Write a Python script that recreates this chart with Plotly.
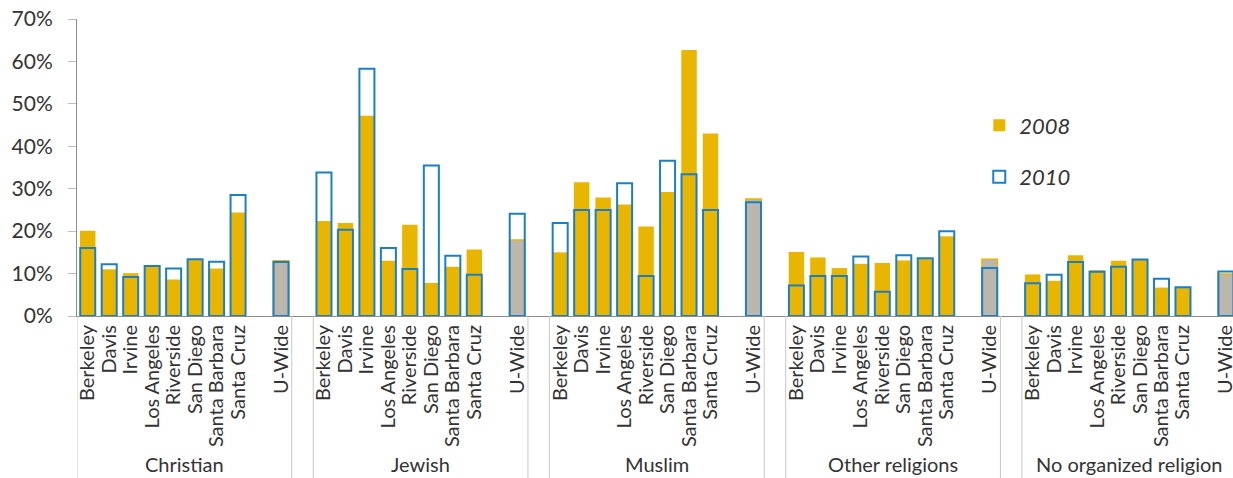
import plotly.graph_objects as go

groups = ["Christian", "Jewish", "Muslim", "Other religions", "No organized religion"]
campuses = ["Berkeley", "Davis", "Irvine", "Los Angeles", "Riverside",
            "San Diego", "Santa Barbara", "Santa Cruz"]
overall = "U-Wide"

# values in percent, per group: 8 campuses then U-Wide
v2008_christian = [20.1, 11.0, 10.1, 11.6, 8.6, 13.3, 11.2, 24.4, 13.0]
v2008_jewish = [22.4, 21.9, 47.2, 13.0, 21.5, 7.8, 11.6, 15.7, 17.9]
v2008_muslim = [15.0, 31.5, 27.9, 26.3, 21.1, 29.2, 62.7, 43.0, 27.6]
v2008_other = [15.1, 13.8, 11.3, 12.3, 12.5, 13.1, 13.5, 18.8, 13.4]
v2008_none = [9.8, 8.3, 14.3, 10.8, 13.0, 13.2, 6.7, 6.6, 9.9]

v2010_christian = [16.0, 12.2, 9.2, 11.8, 11.2, 13.4, 12.8, 28.5, 12.7]
v2010_jewish = [33.8, 20.3, 58.3, 16.0, 11.1, 35.5, 14.2, 9.7, 24.1]
v2010_muslim = [21.9, 25.0, 25.0, 31.3, 9.4, 36.6, 33.4, 25.0, 26.8]
v2010_other = [7.2, 9.4, 9.4, 14.0, 5.7, 14.3, 13.6, 20.0, 11.3]
v2010_none = [7.7, 9.7, 12.7, 10.4, 11.6, 13.3, 8.8, 6.8, 10.5]

y_ticks = [0, 10, 20, 30, 40, 50, 60, 70]
y_tick_text = [f"{v}%" for v in y_ticks]

series_2008 = [v2008_christian, v2008_jewish, v2008_muslim, v2008_other, v2008_none]
series_2010 = [v2010_christian, v2010_jewish, v2010_muslim, v2010_other, v2010_none]

GOLD = "#E8B600"
BLUE = "#1C7FC4"
GRAY = "#BDB6AC"
TEXT = "#333333"
FONT = "Lato"

# positions: per group 8 campuses, one empty slot, U-Wide, then one gap slot
slots_per_group = len(campuses) + 3
xs, y08, y10, labels, fill08, line08c, line08w = [], [], [], [], [], [], []
group_bounds = []
for g, grp in enumerate(groups):
    start = g * slots_per_group
    names = campuses + [overall]
    offs = list(range(len(campuses))) + [len(campuses) + 1]
    for k, (nm, off) in enumerate(zip(names, offs)):
        xs.append(start + off)
        labels.append(nm)
        y08.append(series_2008[g][k])
        y10.append(series_2010[g][k])
        is_u = nm == overall
        fill08.append(GRAY if is_u else GOLD)
        line08c.append(GOLD)
        line08w.append(1.5 if is_u else 0)
    group_bounds.append((start - 0.5, start + len(campuses) + 1.5))

fig = go.Figure()
fig.add_trace(go.Bar(
    x=xs, y=y08, name="2008", width=0.72, legendgroup="a",
    marker=dict(color=fill08, line=dict(color=line08c, width=line08w)),
))
fig.add_trace(go.Bar(
    x=xs, y=y10, name="2010", width=0.7, legendgroup="b",
    marker=dict(color="rgba(0,0,0,0)", line=dict(color=BLUE, width=2)),
))

shapes = []
annotations = []
for g, (a, b) in enumerate(group_bounds):
    for xv in (a, b):
        shapes.append(dict(type="line", xref="x", yref="paper", x0=xv, x1=xv,
                           y0=0, y1=-0.56, line=dict(color="#C8C8C8", width=1)))
    annotations.append(dict(xref="x", yref="paper", x=(a + b) / 2, y=-0.498,
                            text=groups[g], showarrow=False, yanchor="middle",
                            font=dict(family=FONT, size=20, color=TEXT)))

fig.update_layout(
    width=1233, height=478,
    margin=dict(l=77, r=0, t=19, b=162),
    paper_bgcolor="white", plot_bgcolor="white",
    barmode="overlay",
    shapes=shapes, annotations=annotations,
    showlegend=True,
    xaxis=dict(range=[-0.5, 53.33], tickmode="array", tickvals=xs, ticktext=labels,
               tickangle=-90, showline=True, linecolor="#8C8C8C", linewidth=1,
               ticks="", showgrid=False, zeroline=False, automargin=False,
               ticklabeloverflow="allow",
               tickfont=dict(family=FONT, size=20, color=TEXT)),
    yaxis=dict(range=[0, 70], tickmode="array", tickvals=y_ticks, ticktext=y_tick_text,
               showline=True, linecolor="#8C8C8C", linewidth=1, ticks="outside",
               ticklen=8, tickcolor="#BDBDBD", showgrid=False, zeroline=False,
               automargin=False, ticklabelstandoff=11,
               tickfont=dict(family=FONT, size=21, color=TEXT)),
    legend=dict(x=0.7805, y=0.554, xanchor="left", yanchor="middle",
                bgcolor="rgba(0,0,0,0)", traceorder="grouped", tracegroupgap=20,
                font=dict(family=FONT, size=22, color=TEXT, style="italic")),
)

fig.write_html("out.html", config={"displayModeBar": False},
               post_script="document.body.style.margin='0';document.body.style.padding='0';")
